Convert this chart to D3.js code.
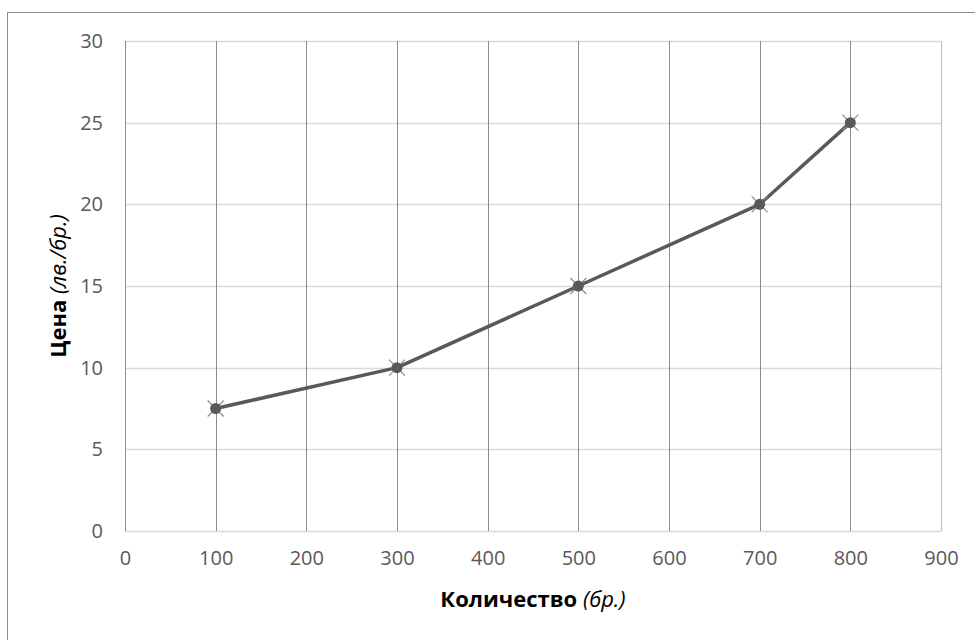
<!DOCTYPE html>
<html>
<head>
<meta charset="utf-8">
<script src="https://cdn.jsdelivr.net/npm/d3@7"></script>
<style>
  body { margin: 0; background: #fff; }
  svg { display: block; font-family: "Open Sans", sans-serif; }
</style>
</head>
<body>
<div id="chart"></div>
<script>
// --- Data ---
const quantities = [100, 300, 500, 700, 800];
const prices = [7.5, 10, 15, 20, 25];
const xTicks = [0, 100, 200, 300, 400, 500, 600, 700, 800, 900];
const yTicks = [0, 5, 10, 15, 20, 25, 30];

const W = 975, H = 640;
const margin = { top: 41, right: 34, bottom: 109, left: 125 };
const width = W - margin.left - margin.right,
      height = H - margin.top - margin.bottom;
const FONT = "'Open Sans', sans-serif";

const svg = d3.select("#chart").append("svg")
  .attr("width", W).attr("height", H);

// outer chart frame (runs off the right/bottom edge like the original)
svg.append("rect")
  .attr("x", 7.5).attr("y", 12.5)
  .attr("width", W + 10).attr("height", H + 10)
  .attr("fill", "none").attr("stroke", "#8c8c8c").attr("stroke-width", 1);

const g = svg.append("g").attr("transform", `translate(${margin.left},${margin.top})`);

const x = d3.scaleLinear().domain([0, 900]).range([0, width]);
const y = d3.scaleLinear().domain([0, 30]).range([height, 0]);

// horizontal gridlines (light)
g.append("g").selectAll("line")
  .data(yTicks)
  .enter().append("line")
  .attr("x1", 0).attr("x2", width)
  .attr("y1", d => Math.round(y(d)) + 0.5).attr("y2", d => Math.round(y(d)) + 0.5)
  .attr("stroke", "#d9d9d9").attr("stroke-width", 1.3);

// vertical gridlines (darker)
g.append("g").selectAll("line")
  .data(xTicks)
  .enter().append("line")
  .attr("x1", d => Math.round(x(d)) + 0.5).attr("x2", d => Math.round(x(d)) + 0.5)
  .attr("y1", 0).attr("y2", height)
  .attr("stroke", d => d === 900 ? "#bfbfbf" : "#8c8c8c").attr("stroke-width", 1);

// tick labels via axes, lines hidden
const yAxis = g.append("g")
  .call(d3.axisLeft(y).tickValues(yTicks).tickSize(0).tickPadding(22));
const xAxis = g.append("g")
  .attr("transform", `translate(0,${height})`)
  .call(d3.axisBottom(x).tickValues(xTicks).tickSize(0).tickPadding(20));
[yAxis, xAxis].forEach(a => {
  a.attr("font-family", FONT).attr("font-size", 20);
  a.select(".domain").remove();
  a.selectAll("text").attr("fill", "#595959");
});

// axis titles
const xTitle = svg.append("text")
  .attr("x", margin.left + width / 2)
  .attr("y", 607)
  .attr("text-anchor", "middle")
  .attr("font-family", FONT)
  .attr("font-size", 22)
  .attr("fill", "#000");
xTitle.append("tspan").attr("font-weight", "bold").text("Количество ");
xTitle.append("tspan").attr("font-style", "italic").text("(бр.)");

const yTitle = svg.append("text")
  .attr("transform", `translate(66,${margin.top + height / 2}) rotate(-90)`)
  .attr("text-anchor", "middle")
  .attr("font-family", FONT)
  .attr("font-size", 22)
  .attr("fill", "#000");
yTitle.append("tspan").attr("font-weight", "bold").text("Цена ");
yTitle.append("tspan").attr("font-style", "italic").text("(лв./бр.)");

// data line
const pts = quantities.map((q, i) => ({ q, p: prices[i] }));
g.append("path")
  .datum(pts)
  .attr("fill", "none")
  .attr("stroke", "#595959")
  .attr("stroke-width", 3.5)
  .attr("stroke-linejoin", "round")
  .attr("d", d3.line().x(d => x(d.q)).y(d => y(d.p)));

// markers: x cross + filled dot
const mk = g.append("g").selectAll("g")
  .data(pts)
  .enter().append("g")
  .attr("transform", d => `translate(${x(d.q)},${y(d.p)})`);
mk.append("path")
  .attr("d", "M-8,-8L8,8M-8,8L8,-8")
  .attr("stroke", "#8c8c8c").attr("stroke-width", 1.2);
mk.append("circle")
  .attr("r", 5.5)
  .attr("fill", "#595959");
</script>
</body>
</html>
